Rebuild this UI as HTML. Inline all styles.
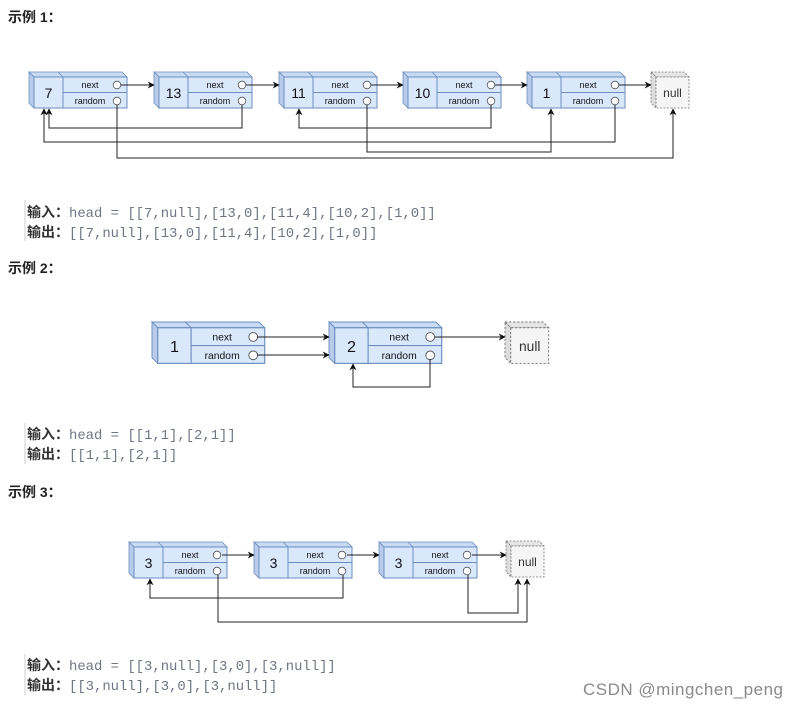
<!DOCTYPE html>
<html><head><meta charset="utf-8"><style>
body{margin:0;background:#fff;width:798px;height:707px;overflow:hidden}
svg{display:block}
.h{font:bold 14px "Liberation Sans","Noto Sans CJK SC",sans-serif;fill:#222}
.lb{font:bold 14px "Liberation Sans","Noto Sans CJK SC",sans-serif;fill:#333}
.cd{font:13.9px "Liberation Mono",monospace;fill:#707684}
.v{font:14px "Liberation Sans",sans-serif;fill:#111;text-anchor:middle}
.s{font:9px "Liberation Sans",sans-serif;fill:#111;text-anchor:middle}
.n{font:12px "Liberation Sans",sans-serif;fill:#333;text-anchor:middle}
.ln{fill:none;stroke:#222;stroke-width:1;marker-end:url(#a)}
</style></head><body>
<svg width="798" height="707" viewBox="0 0 798 707">
<defs>
<marker id="a" viewBox="0 0 10 10" refX="9" refY="5" markerWidth="7" markerHeight="7" orient="auto" markerUnits="userSpaceOnUse"><path d="M0,0L10,5L0,10L3,5z" fill="#111"/></marker>
<g id="nd">
<polygon points="0,0 93,0 98,5 5,5" fill="#c9daf3" stroke="#6c8ebf" stroke-width="0.8"/>
<polygon points="0,0 5,5 5,36 0,31" fill="#b8cbea" stroke="#6c8ebf" stroke-width="0.8"/>
<line x1="29" y1="0" x2="34" y2="5" stroke="#6c8ebf" stroke-width="0.8"/>
<rect x="5" y="5" width="93" height="31" fill="#dae8fc" stroke="#6c8ebf" stroke-width="1"/>
<line x1="34" y1="5" x2="34" y2="36" stroke="#6c8ebf"/>
<line x1="34" y1="20.5" x2="98" y2="20.5" stroke="#6c8ebf"/>
<circle cx="88" cy="13" r="3.8" fill="#fff" stroke="#555" stroke-width="0.8"/>
<circle cx="88" cy="29" r="3.8" fill="#fff" stroke="#555" stroke-width="0.8"/>
<text class="s" x="61" y="16">next</text>
<text class="s" x="61" y="32">random</text>
</g>
<g id="nl">
<polygon points="0,0 33,0 38,5 5,5" fill="#e6e6e6" stroke="#777" stroke-width="0.8" stroke-dasharray="2,1.5"/>
<polygon points="0,0 5,5 5,36 0,31" fill="#ddd" stroke="#777" stroke-width="0.8" stroke-dasharray="2,1.5"/>
<rect x="5" y="5" width="33" height="31" fill="#f5f5f5" stroke="#777" stroke-width="0.8" stroke-dasharray="2,1.5"/>
<text class="n" x="21.5" y="25">null</text>
</g>
</defs>

<text class="h" x="8" y="22">示例 1：</text>
<g transform="translate(29,72)"><use href="#nd"/><text class="v" x="19.5" y="26">7</text></g>
<g transform="translate(154,72)"><use href="#nd"/><text class="v" x="19.5" y="26">13</text></g>
<g transform="translate(279,72)"><use href="#nd"/><text class="v" x="19.5" y="26">11</text></g>
<g transform="translate(403,72)"><use href="#nd"/><text class="v" x="19.5" y="26">10</text></g>
<g transform="translate(527,72)"><use href="#nd"/><text class="v" x="19.5" y="26">1</text></g>
<g transform="translate(651,72)"><use href="#nl"/></g>
<path class="ln" d="M121,85H154"/>
<path class="ln" d="M246,85H279"/>
<path class="ln" d="M371,85H403"/>
<path class="ln" d="M495,85H527"/>
<path class="ln" d="M619,85H651"/>
<path class="ln" d="M242,105V128H49V109"/>
<path class="ln" d="M615,105V142H44V109"/>
<path class="ln" d="M491,105V128H299V109"/>
<path class="ln" d="M367,105V152H551V109"/>
<path class="ln" d="M117,105V158H673V109"/>

<rect x="24" y="200" width="2" height="41" fill="#e6e6e6"/>
<text x="27" y="217"><tspan class="lb">输入：</tspan><tspan class="cd">head = [[7,null],[13,0],[11,4],[10,2],[1,0]]</tspan></text>
<text x="27" y="237"><tspan class="lb">输出：</tspan><tspan class="cd">[[7,null],[13,0],[11,4],[10,2],[1,0]]</tspan></text>

<text class="h" x="8" y="273">示例 2：</text>
<g transform="translate(152,322) scale(1.15)"><use href="#nd"/><text class="v" x="19.5" y="26">1</text></g>
<g transform="translate(329,322) scale(1.15)"><use href="#nd"/><text class="v" x="19.5" y="26">2</text></g>
<g transform="translate(505,322) scale(1.15)"><use href="#nl"/></g>
<path class="ln" d="M257,337H329"/>
<path class="ln" d="M257,355H329"/>
<path class="ln" d="M435,337H505"/>
<path class="ln" d="M430,359V387H353V364"/>

<rect x="24" y="423" width="2" height="41" fill="#e6e6e6"/>
<text x="27" y="439"><tspan class="lb">输入：</tspan><tspan class="cd">head = [[1,1],[2,1]]</tspan></text>
<text x="27" y="459"><tspan class="lb">输出：</tspan><tspan class="cd">[[1,1],[2,1]]</tspan></text>

<text class="h" x="8" y="497">示例 3：</text>
<g transform="translate(129,542)"><use href="#nd"/><text class="v" x="19.5" y="26">3</text></g>
<g transform="translate(254,542)"><use href="#nd"/><text class="v" x="19.5" y="26">3</text></g>
<g transform="translate(379,542)"><use href="#nd"/><text class="v" x="19.5" y="26">3</text></g>
<g transform="translate(506,541)"><use href="#nl"/></g>
<path class="ln" d="M222,555H254"/>
<path class="ln" d="M347,555H379"/>
<path class="ln" d="M472,555H506"/>
<path class="ln" d="M343,575V598H150V579"/>
<path class="ln" d="M468,575V613H518V579"/>
<path class="ln" d="M218,575V622H527V579"/>

<rect x="24" y="654" width="2" height="41" fill="#e6e6e6"/>
<text x="27" y="670"><tspan class="lb">输入：</tspan><tspan class="cd">head = [[3,null],[3,0],[3,null]]</tspan></text>
<text x="27" y="690"><tspan class="lb">输出：</tspan><tspan class="cd">[[3,null],[3,0],[3,null]]</tspan></text>

<text x="583" y="695" textLength="200" style="font:17px 'Liberation Sans',sans-serif;fill:#8a8a8a">CSDN @mingchen_peng</text>
</svg>
</body></html>
